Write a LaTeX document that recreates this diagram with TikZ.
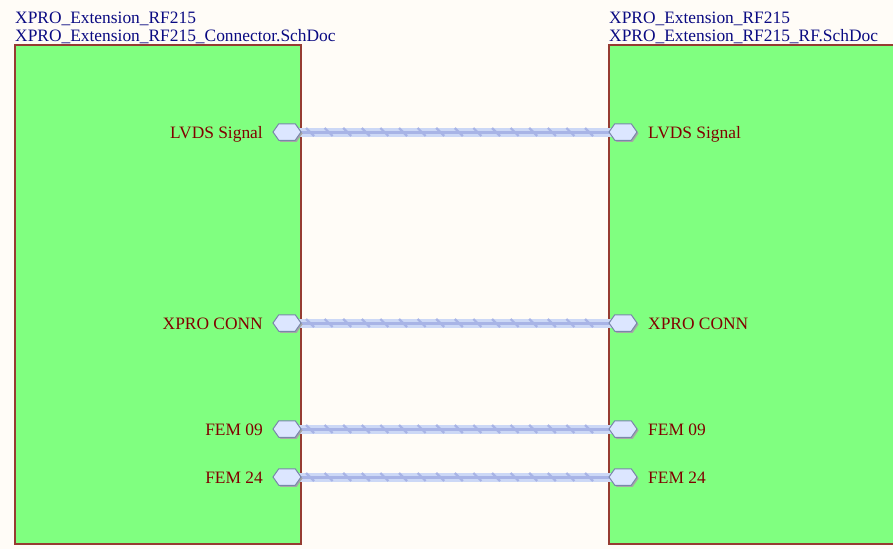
\documentclass[tikz,border=0pt]{standalone}
\usepackage{fontspec}
\setmainfont{Liberation Serif}
\usetikzlibrary{shapes.symbols,shadows}

\definecolor{paper}{RGB}{255,252,247}
\definecolor{sheetfill}{RGB}{128,255,128}
\definecolor{sheetline}{RGB}{150,60,50}
\definecolor{titleblue}{RGB}{10,10,130}
\definecolor{portred}{RGB}{128,0,0}
\definecolor{portfill}{RGB}{220,230,255}
\definecolor{portline}{RGB}{120,135,170}
\definecolor{busband}{RGB}{204,216,246}
\definecolor{busline}{RGB}{168,180,230}

\begin{document}
\begin{tikzpicture}[x=1pt,y=-1pt,
  sheet/.style={draw=sheetline, fill=sheetfill, line width=1.4pt, minimum width=286pt, minimum height=499pt, inner sep=0pt},
  title/.style={text=titleblue, font=\fontsize{17.4}{19}\selectfont, inner sep=0pt},
  portlabel/.style={text=portred, font=\fontsize{17.4}{19}\selectfont, inner sep=0pt},
  port/.style={signal, signal to=east and west, signal pointer angle=110, draw=portline, fill=portfill, line width=1pt, minimum width=28pt, minimum height=16.5pt, inner sep=0pt,
    general shadow={fill=black!35, shadow xshift=1.5pt, shadow yshift=-1.5pt}},
  bus/.style={busband, line width=9pt, postaction={draw=busline, line width=3pt}},
  slash/.style={busline, line width=2.2pt}]
\useasboundingbox (0,0) rectangle (893,549);
\fill[paper] (0,0) rectangle (893,549);

% sheet symbols
\node[sheet] (connsheet) at (158,294.5) {};
\node[sheet] (rfsheet) at (752,294.5) {};
\node[title, anchor=base west] (conntitle) at (15,23) {XPRO\_Extension\_RF215};
\node[title, anchor=base west] (connfile) at (15,41.5) {XPRO\_Extension\_RF215\_Connector.SchDoc};
\node[title, anchor=base west] (rftitle) at (609,23) {XPRO\_Extension\_RF215};
\node[title, anchor=base west] (rffile) at (609,41.5) {XPRO\_Extension\_RF215\_RF.SchDoc};

% sheet entries and buses
\foreach \name/\txt/\y in {lvds/LVDS Signal/132, xpro/XPRO CONN/323, femA/FEM 09/429, femB/FEM 24/477} {
  \draw[bus] (287,\y) coordinate (\name a) -- (623,\y) coordinate (\name b);
  \foreach \x in {310,328.6,...,600}
    \draw[slash] (\x-4,\y-4) -- (\x+4,\y+4);
  \node[port] (\name L) at (\name a) {};
  \node[port] (\name R) at (\name b) {};
  \node[portlabel, anchor=base east] (\name Ltxt) at (263,\y+6) {\txt};
  \node[portlabel, anchor=base west] (\name Rtxt) at (648,\y+6) {\txt};
}
\end{tikzpicture}
\end{document}
